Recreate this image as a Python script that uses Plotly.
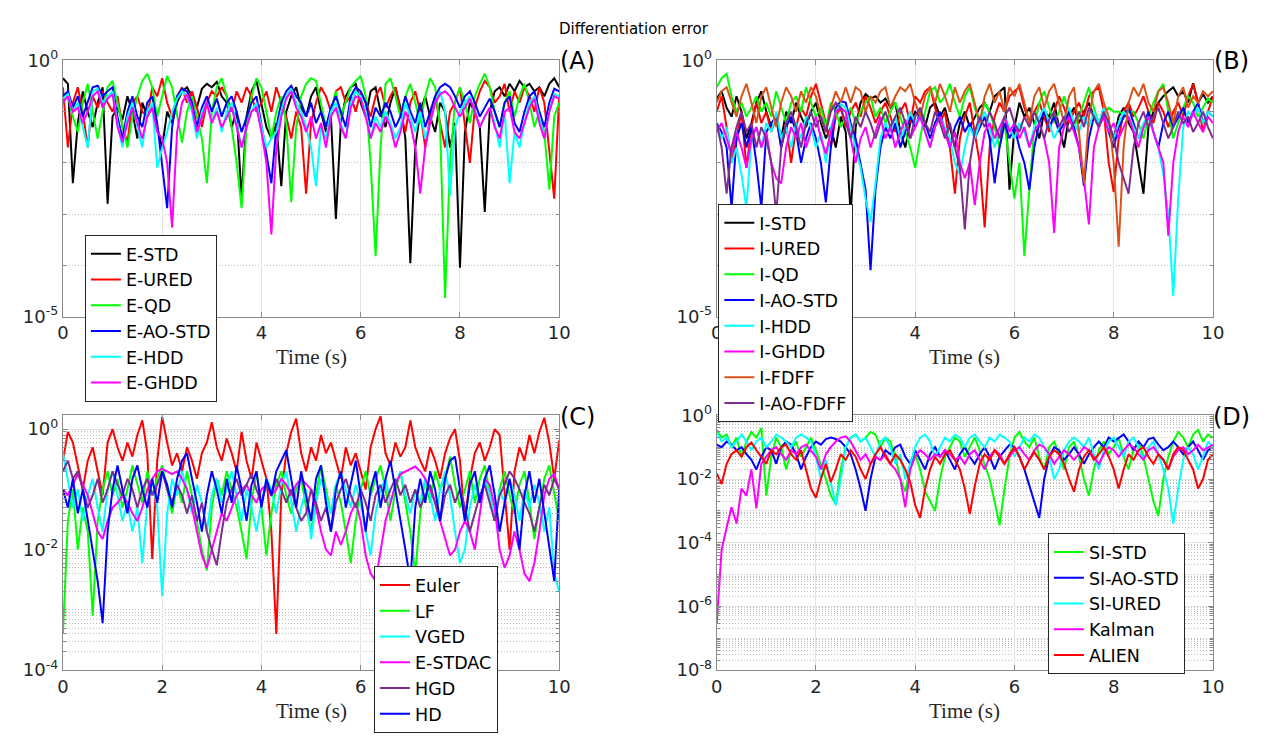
import plotly.graph_objects as go

# ---------------- data (t = 0 ... 10 s, step 0.1 s) ----------------
E_STD = [.45,.35,4e-3,.06,.25,.1,.05,.15,.3,1.6e-3,
         .08,.12,.07,.2,.1,.03,.15,.08,.12,.05,
         .02,.1,.06,.15,.25,.3,.2,.12,.28,.35,
         .3,.38,.2,.15,.05,.1,2e-3,.08,.25,.4,
         .15,.05,.03,.06,3.5e-3,.1,.2,.3,.12,.08,
         .2,.3,.1,.04,.08,8e-4,.06,.2,.3,.35,
         .15,.08,.25,.3,.1,.05,.15,.3,.12,.03,
         1.1e-4,.02,.1,.2,.08,.04,.15,.1,.02,.06,
         9e-5,.04,.15,.1,.05,1.1e-3,.1,.25,.3,.2,
         .35,.25,.4,.3,.35,.25,.3,.2,.35,.45,.3]
E_URED = [.3,.02,.15,.3,.1,.02,.2,.12,.25,.15,
          .1,.2,.05,.025,.15,.2,.1,.08,.3,.2,
          .45,.15,.08,.2,.3,.15,.25,.12,.05,.15,
          .25,.2,.3,.2,.1,.25,.15,.3,.2,.1,
          .15,.25,.1,.3,.15,.08,.03,.1,.05,2.5e-3,
          .06,.15,.3,.2,.1,.25,.3,.15,.2,.1,
          .25,.15,.08,.2,.3,.12,.2,.3,.1,.04,
          .15,.25,.1,.02,.08,.2,.06,.02,.1,.15,
          .3,.05,.01,.12,.25,.4,.3,.15,.2,.35,
          .1,.25,.15,.3,.2,.1,.3,.15,.02,2e-3,.2]
E_QD = [.15,.2,.08,.04,.15,.35,.1,.03,.1,.3,
        .4,.15,.05,.02,.08,.2,.4,.55,.3,.08,
        .2,.5,.3,.08,.025,.1,.2,.08,.03,4e-3,
        .1,.3,.45,.2,.05,.01,1.3e-3,.05,.2,.45,
        .3,.1,.03,.1,.2,.06,1.7e-3,.05,.2,.35,
        .45,.4,.15,.05,.1,.25,.08,.15,.3,.4,
        .5,.2,.01,1.5e-4,.02,.35,.45,.2,.08,.2,
        .35,.15,.06,.2,.45,.3,.05,2.3e-5,.01,.15,
        .3,.15,.06,.2,.35,.55,.3,.1,.05,.15,
        .25,.08,.2,.35,.15,.05,.1,.04,3e-3,.08,.15]
E_AO_STD = [.2,.25,.12,.2,.08,.15,.3,.32,.2,.25,
            .3,.08,.03,.1,.2,.08,.05,.15,.2,.06,
            .01,1.3e-3,.05,.2,.28,.25,.15,.05,.12,.2,
            .1,.18,.08,.15,.2,.1,.04,.08,.15,.2,
            .06,.015,4e-3,.05,.15,.25,.32,.2,.15,.08,
            .15,.06,.1,.05,.12,.2,.1,.05,.2,.3,
            .25,.15,.05,.12,.08,.15,.1,.05,.08,.2,
            .1,.06,.15,.05,.1,.2,.3,.35,.3,.2,
            .12,.2,.25,.15,.08,.12,.18,.1,.05,.15,
            .2,.06,.04,.1,.2,.25,.1,.05,.15,.28,.25]
E_HDD = [.18,.22,.1,.15,.05,.02,.25,.28,.15,.2,
         .25,.06,.02,.08,.15,.05,.02,.1,.15,8e-3,
         .02,.04,.1,.18,.25,.2,.1,.03,.1,.15,
         .06,.12,.04,.1,.15,.06,.02,.05,.1,.15,
         .05,.02,.03,.04,.1,.2,.28,.15,.1,.05,
         .02,3.5e-3,.05,.03,.1,.15,.06,.03,.15,.25,
         .2,.1,.03,.08,.05,.1,.06,.03,.05,.15,
         .08,.04,.1,.03,.06,.15,.25,.1,2.3e-3,.05,
         .1,.15,.2,.1,.05,.08,.12,.06,.02,.1,
         4e-3,.04,.02,.06,.15,.2,.08,.03,.1,.22,.2]
E_GHDD = [.15,.2,.1,.12,.06,.1,.2,.25,.12,.18,
          .22,.05,.025,.06,.12,.06,.03,.08,.12,.04,
          .03,.01,5.5e-4,.04,.15,.22,.12,.04,.08,.15,
          .06,.1,.05,.08,.12,.05,.02,.05,.1,.12,
          .04,.01,4e-4,.02,.08,.18,.25,.12,.08,.04,
          .08,.03,.06,.02,.08,.12,.05,.03,.12,.2,
          .18,.08,.03,.06,.04,.08,.05,.02,.04,.1,
          .06,.02,2.5e-3,.02,.06,.15,.22,.25,.2,.12,
          .08,.12,.18,.1,.05,.08,.12,.05,.03,.1,
          .12,.04,.03,.06,.12,.18,.06,.03,.1,.2,.18]

I_STD = [.18,.25,.12,.08,.2,.1,.03,.06,.15,.25,
         .1,.05,.08,.03,.1,.06,.15,.08,.05,.1,
         .15,.06,.03,.05,.02,.08,.04,1e-3,.05,.15,
         .22,.18,.2,.15,.18,.12,.15,.04,.02,.06,
         .1,.08,.05,.12,.15,.08,.12,.05,.02,.06,
         .1,.05,.08,.12,.15,.1,.2,.25,.3,3e-3,
         .05,.15,.08,.12,.06,.03,.1,.08,.15,.05,
         .02,.08,.12,.06,.1,.15,.08,.05,.1,.06,
         .03,.08,.12,.06,.04,.01,2.5e-3,.05,.1,.15,
         .2,.25,.3,.2,.25,.15,.36,.15,.22,.15,.2]
I_URED = [.1,.2,.05,.01,.03,.1,8e-3,.05,.15,.06,
          .1,.04,.08,.02,.06,.01,.05,.12,.08,.2,
          .35,.15,.06,.02,.08,.12,.05,.1,.15,.08,
          .2,.12,.06,.1,.15,.08,.04,.1,.15,.06,
          .2,.15,.25,.3,.12,.06,.1,.02,2.5e-3,.03,
          .08,.15,.04,.01,5.5e-4,.02,.08,.15,.1,.2,
          .25,.3,.12,.06,.1,.15,.08,.04,.1,.2,
          .12,.06,.1,.15,.08,.2,.25,.3,.1,.01,
          2.7e-3,.03,.1,.15,.08,.12,.2,.1,.06,.15,
          .1,.05,.1,.15,.08,.2,.35,.15,.04,.1,.2]
I_QD = [.3,.45,.55,.2,.1,.15,.08,.12,.2,.1,
        .15,.08,.25,.12,.06,.15,.2,.1,.3,.15,
        .08,.12,.05,.15,.1,.05,.08,.12,.06,.1,
        .15,.2,.08,.12,.06,.1,.15,.08,.04,.02,
        8e-3,.03,.1,.25,.3,.15,.2,.35,.15,.08,
        .2,.3,.12,.06,.15,.1,.05,.02,.06,.01,
        2e-3,.01,1.5e-4,3e-3,.05,.15,.25,.12,.06,.1,
        .2,.1,.05,.08,.15,.3,.12,.06,.1,.12,
        .1,.1,.09,.1,.1,.06,.03,.08,.15,.25,
        .35,.1,.03,.06,.12,.2,.15,.08,.12,.18,.15]
I_AO_STD = [.06,.04,.02,1.3e-3,.03,.06,.02,.05,.01,1.3e-3,
            .04,.06,.08,.02,.05,.08,.04,.01,.03,.06,
            .03,.01,1.7e-3,.02,.12,.16,.15,.06,.03,.01,
            3e-3,8e-5,3e-3,.02,.05,.03,.06,.02,.04,.08,
            .05,.1,.06,.03,.06,.1,.04,.02,.05,.08,
            .04,.06,.03,.05,.08,.03,4e-3,.02,.06,.03,
            .05,.02,.01,3e-3,.02,.06,.1,.05,.08,.04,
            .06,.1,.05,.02,3.5e-3,.03,.08,.06,.1,.04,
            .02,.05,.08,.12,.06,.03,.05,.1,.04,.02,
            .06,.1,.05,.08,.12,.06,.1,.15,.06,.1,.08]
I_HDD = [.05,.03,.05,.01,.02,6e-3,1.3e-3,.03,.05,.02,
         .06,.04,.1,.03,.05,.02,.06,.03,.08,.05,
         .02,.04,.01,.05,.1,.14,.12,.05,.02,8e-3,
         2e-3,7e-4,4e-3,.03,.06,.04,.08,.03,.05,.1,
         .06,.08,.04,.02,.05,.08,.05,.03,.01,6e-3,
         .02,.05,.03,.06,.1,.05,.02,.04,.08,.05,
         .03,.06,.04,.02,.05,.08,.12,.06,.03,.05,
         .08,.12,.06,.04,.08,.05,.1,.06,.12,.05,
         .03,.06,.1,.08,.05,.03,.06,.08,.04,.02,
         6e-3,1e-3,2.5e-5,2e-3,.05,.1,.08,.12,.06,.1,.08]
I_GHDD = [.04,.06,.03,.015,.04,.02,8e-3,.03,.05,.02,
          .04,.01,5e-3,4e-3,.02,.05,.03,.06,.02,.04,
          .08,.03,.015,.04,.1,.12,.1,.03,.01,.03,
          .05,.02,.04,.08,.03,.05,.02,.04,.07,.03,
          .05,.08,.04,.02,.05,.08,.04,.02,.04,.01,
          5e-3,.01,1.5e-3,.01,.04,.06,.03,.05,.08,.04,
          .06,.03,.05,.02,.04,.06,.03,.01,4.3e-4,.02,
          .05,.08,.04,.02,5e-3,6.3e-4,.02,.05,.08,.04,
          .06,.03,.05,.08,.04,.02,.05,.08,.04,.02,
          .01,3.8e-4,.01,.04,.08,.05,.1,.06,.04,.08,.06]
I_FDFF = [.15,.25,.3,.15,.08,.2,.35,.15,.06,.2,
          .3,.12,.05,.15,.3,.2,.1,.25,.15,.3,
          .2,.08,.04,.12,.25,.15,.3,.15,.3,.25,
          .1,.2,.15,.25,.3,.12,.2,.3,.25,.35,
          .15,.08,.2,.3,.15,.35,.2,.1,.3,.15,
          .25,.35,.15,.06,.2,.35,.15,.25,.1,.3,
          .2,.35,.15,.06,.2,.3,.12,.25,.35,.15,
          .06,.2,.3,.04,4e-3,.08,.25,.35,.15,.08,
          .01,2.3e-4,.02,.15,.3,.2,.35,.15,.1,.25,
          .3,.15,.06,.2,.3,.12,.2,.15,.25,.2,.25]
I_AO_FDFF = [.06,.02,2.5e-3,.02,.05,.1,.04,.06,.02,.05,
             .03,.01,1e-3,.02,.06,.1,.05,.02,.06,.1,
             .05,.08,.04,.1,.15,.12,.06,.03,.08,.05,
             .1,.06,.03,.06,.1,.05,.08,.12,.06,.03,
             .08,.12,.06,.04,.1,.06,.03,.06,.02,8e-3,
             5e-4,.01,.04,.08,.05,.1,.06,.03,.08,.12,
             .06,.04,.08,.05,.1,.06,.03,.07,.1,.05,
             .08,.04,.06,.1,.05,.12,.08,.05,.1,.06,
             .03,.01,5e-3,2.5e-3,.02,.06,.1,.05,.08,.12,
             .06,.03,.05,.1,.06,.08,.04,.06,.1,.05,.03]

EULER = [.3,.9,.6,.25,.1,.3,.5,.2,.08,.6,
         1.0,.5,.3,.6,.35,.8,1.4,.4,7e-3,.3,
         1.6,.6,.25,.4,.2,.5,.3,.15,.4,.6,
         1.3,.5,.3,.7,.4,.2,.9,.3,.15,.6,
         .3,.15,.02,4e-4,.08,.4,.9,1.5,.4,.2,
         .5,.3,.8,.4,.6,.3,.15,.5,.25,.4,
         .2,.1,.5,1.0,1.65,.4,.25,.6,.35,.5,
         1.4,.5,.3,.2,.5,.3,.15,.4,.7,1.0,
         .3,.03,.15,.4,.6,.3,.5,1.0,.8,.1,
         .01,.2,.5,.3,.8,.4,.9,1.55,.6,.15,.65]
LF = [4e-4,.03,.1,.01,.05,.02,8e-4,.03,.1,.2,
      .08,.15,.05,.1,.25,.12,.06,.2,.08,.15,
      .25,.1,.04,.12,.06,.2,.08,.03,.01,4.5e-3,
      .05,.15,.08,.2,.1,.05,.02,7e-3,.06,.2,
      .05,8e-3,.04,.12,.2,.08,.04,.1,.15,.05,
      .02,.08,.25,.1,.04,.12,.06,.02,6e-3,.03,
      .1,.2,.08,.15,.25,.1,.03,.1,.2,.06,
      .02,4e-3,.04,.15,.06,.2,.1,.15,.35,.12,
      .05,.1,.2,.06,.15,.25,.08,.03,.1,.2,
      .08,.04,.12,.2,.06,.015,.05,.15,.25,.08,.03]
VGED = [.4,.15,.05,.1,.03,.08,.15,.05,.02,.1,
        .2,.08,.03,.06,.02,.05,6e-3,.06,.15,.05,
        1.7e-3,.04,.15,.08,.2,.1,.04,.12,.06,.02,
        .08,.15,.06,.1,.2,.08,.03,.1,.05,.02,
        .06,.15,.1,.04,.12,.2,.06,.02,.05,.1,
        .015,.06,.15,.08,.04,.12,.2,.1,.05,.12,
        .06,.02,8e-3,.04,.1,.15,.06,.12,.2,.08,
        .04,.1,.06,.15,.08,.03,.1,.2,.08,.02,
        6e-3,.01,.05,.12,.06,.15,.08,.03,.1,.06,
        .15,.08,.03,.1,.05,.12,.06,.02,.05,4e-3,2e-3]
E_STDAC = [.1,.08,.12,.18,.12,.08,.04,.02,.015,.03,
           .05,.06,.08,.06,.04,.03,.05,.1,.15,.2,
           .22,.2,.18,.2,.15,.1,.05,.02,8e-3,5e-3,
           .01,.02,.04,.03,.05,.08,.1,.12,.08,.06,
           .1,.12,.08,.1,.15,.12,.08,.12,.15,.12,
           .1,.05,.02,.01,8e-3,.02,.012,.02,.04,.06,
           .03,8e-3,4e-3,3e-3,.01,.03,.06,.12,.18,.2,
           .22,.24,.2,.15,.1,.06,.03,.015,8e-3,.01,
           .02,.03,.02,.01,.04,.15,.12,.05,.01,5e-3,
           8e-3,.02,.01,4e-3,3e-3,6e-3,.02,.08,.15,.18,.1]
HGD = [.2,.3,.15,.2,.1,.05,.08,.15,.06,.1,
       .2,.12,.08,.15,.1,.05,.1,.15,.08,.12,
       .2,.1,.06,.12,.08,.04,.08,.03,.06,.02,
       .01,5.5e-3,.02,.06,.1,.15,.08,.12,.18,.1,
       .06,.12,.08,.15,.1,.06,.1,.05,.03,.04,
       .1,.06,.03,.05,.02,.06,.1,.15,.08,.05,
       .1,.06,.03,.08,.12,.06,.1,.15,.08,.12,
       .06,.1,.05,.08,.12,.06,.03,.08,.12,.06,
       .1,.05,.02,.04,.08,.12,.06,.03,.08,.12,
       .2,.15,.1,.06,.04,.02,.05,.12,.08,.15,.1]
HD = [.1,.05,.15,.04,.1,.03,.01,3e-3,6e-4,.02,
      .1,.25,.1,.04,.15,.25,.1,.05,.15,.06,
      .2,.12,.05,.15,.3,.4,.15,.06,.02,.08,
      .2,.1,.04,.15,.06,.25,.1,.03,.12,.2,
      .05,.15,.08,.2,.3,.45,.15,.05,.2,.08,
      .03,.15,.25,.06,.02,.1,.2,.05,.12,.3,
      .08,.02,.1,.2,.05,.15,.3,.1,.03,.01,
      3e-3,.05,.15,.06,.2,.1,.03,.15,.3,.35,
      .1,.03,.12,.2,.06,.15,.25,.08,.02,.06,
      .15,.05,.01,.08,.2,.06,.15,.04,.01,3e-3,.1]

SI_STD = [.35,.2,.25,.1,.2,.05,.15,.3,.2,.4,
          3e-3,.05,.2,.1,.02,.08,.15,.05,.1,.2,
          .08,.03,.01,3e-3,1.6e-3,.02,.1,.2,.25,.15,
          .2,.3,.25,.1,.2,.15,.05,.01,4e-3,.02,
          .06,.02,4e-3,2e-3,1e-3,.01,.05,.1,.2,.15,
          .05,.1,.2,.08,.03,.01,2e-3,3.5e-4,5e-3,.05,
          .2,.3,.15,.1,.2,.05,.02,.1,.15,.06,
          .02,.1,.15,.05,.01,3e-3,.02,.08,.15,.06,
          .1,.2,.05,.02,.08,.15,.05,.01,2e-3,7e-4,
          .01,.05,.15,.3,.2,.1,.25,.35,.15,.25,.2]
SI_AO_STD = [.12,.1,.15,.12,.08,.1,.06,.04,.02,.05,
             .1,.08,.03,.1,.15,.12,.06,.02,.05,.1,
             .15,.12,.18,.2,.18,.15,.1,.06,.02,5e-3,
             1e-3,.01,.05,.04,.08,.06,.1,.12,.05,.03,
             .08,.04,.02,.06,.1,.05,.08,.04,.02,.06,
             .1,.05,.03,.06,.1,.05,.02,.05,.08,.12,
             .1,.05,.02,6e-3,2e-3,6e-4,.01,.05,.1,.08,
             .04,.06,.1,.06,.03,.06,.1,.15,.1,.2,
             .15,.2,.25,.15,.08,.15,.1,.18,.2,.12,
             .08,.1,.15,.1,.06,.1,.15,.08,.04,.08,.1]
SI_URED = [.3,.15,.2,.1,.15,.25,.15,.08,.15,.2,
           .1,.15,.25,.2,.15,.1,.2,.25,.2,.15,
           .05,.01,.04,8e-3,1.5e-3,.01,.1,.2,.25,.15,
           .2,.1,.05,.15,.2,.1,.03,.06,.01,.03,
           .1,.2,.25,.15,.05,.1,.2,.15,.25,.2,
           .1,.2,.25,.15,.1,.2,.15,.25,.2,.15,
           .05,.1,.2,.15,.25,.2,.1,.05,.01,.02,
           .08,.15,.2,.15,.1,.2,.06,.02,.08,.15,
           .2,.1,.05,.15,.2,.1,.04,.1,.15,.06,
           .02,5e-3,4e-4,5e-3,.04,.1,.06,.02,.05,.15,.1]
KALMAN = [3e-7,6e-5,3e-4,1.3e-3,4e-4,5e-3,3e-3,.02,1.2e-3,.03,
          .05,.08,.1,.06,.04,.08,.06,.1,.12,.08,
          .05,.02,.06,.1,.15,.2,.22,.15,.08,.04,
          .06,.03,.05,.04,.06,.03,.02,.01,1.3e-3,.02,
          .05,.08,.06,.04,.06,.05,.08,.06,.04,.05,
          .03,.06,.08,.04,.02,.05,.08,.06,.03,.05,
          .08,.1,.06,.04,.08,.12,.1,.06,.03,.05,
          .08,.06,.04,.06,.1,.08,.05,.03,.06,.1,
          .08,.05,.08,.12,.1,.06,.04,.08,.1,.06,
          .04,.02,.05,.08,.1,.06,.08,.12,.08,.1,.12]
ALIEN = [.015,7e-3,.03,.06,.08,.05,.1,.14,.08,.05,
         .03,.08,.06,.1,.12,.06,.04,.08,.02,5e-3,
         2.6e-3,.01,.03,8e-3,.02,.06,.04,.08,.05,.02,
         .01,.03,.06,.1,.05,.03,.06,.04,.02,8e-3,
         1.5e-3,6e-4,5e-3,.02,.05,.03,.06,.08,.04,.02,
         5e-3,8e-4,6e-3,.03,.06,.04,.08,.05,.03,.06,
         .1,.05,.02,.04,.07,.04,.02,.05,.08,.06,
         .03,.01,4e-3,.02,.05,.08,.04,.06,.1,.05,
         .02,5e-3,.02,.06,.04,.08,.1,.05,.03,.06,
         .04,.02,.06,.1,.08,.04,.02,5e-3,.01,.04,.06]

PANEL_A = [("E-STD", E_STD, "#000000"), ("E-URED", E_URED, "#ff0000"),
           ("E-QD", E_QD, "#00ff00"), ("E-AO-STD", E_AO_STD, "#0000ff"),
           ("E-HDD", E_HDD, "#00ffff"), ("E-GHDD", E_GHDD, "#ff00ff")]
PANEL_B = [("I-STD", I_STD, "#000000"), ("I-URED", I_URED, "#ff0000"),
           ("I-QD", I_QD, "#00ff00"), ("I-AO-STD", I_AO_STD, "#0000ff"),
           ("I-HDD", I_HDD, "#00ffff"), ("I-GHDD", I_GHDD, "#ff00ff"),
           ("I-FDFF", I_FDFF, "#d95319"), ("I-AO-FDFF", I_AO_FDFF, "#7e2f8e")]
PANEL_C = [("Euler", EULER, "#ff0000"), ("LF", LF, "#00ff00"),
           ("VGED", VGED, "#00ffff"), ("E-STDAC", E_STDAC, "#ff00ff"),
           ("HGD", HGD, "#7e2f8e"), ("HD", HD, "#0000ff")]
PANEL_D = [("SI-STD", SI_STD, "#00ff00"), ("SI-AO-STD", SI_AO_STD, "#0000ff"),
           ("SI-URED", SI_URED, "#00ffff"), ("Kalman", KALMAN, "#ff00ff"),
           ("ALIEN", ALIEN, "#ff0000")]

X_TICKS = [0, 2, 4, 6, 8, 10]

# ---------------- layout geometry ----------------
W, H = 1273, 736
XL = (57.7 / W, 560.7 / W)
XR = (720.3 / W, 1223.3 / W)
YT = (1 - 313.3 / H, 1 - 49 / H)
YB = (1 - 678.3 / H, 1 - 415.3 / H)

SANS = "DejaVu Sans"
SERIF = "Liberation Serif"
TXT = "#262626"
FRAME = "#8a8a8a"
GRID = "#e3e3e3"

fig = go.Figure()


def tgrid(v):
    n = len(v)
    return [10.0 * i / (n - 1) for i in range(n)]


panels = [(PANEL_A, "x", "y", "legend"), (PANEL_B, "x2", "y2", "legend2"),
          (PANEL_C, "x3", "y3", "legend3"), (PANEL_D, "x4", "y4", "legend4")]
for series, xa, ya, lg in panels:
    for name, vals, col in series:
        fig.add_trace(go.Scatter(x=tgrid(vals), y=vals, mode="lines", name=name,
                                 line=dict(color=col, width=2), xaxis=xa, yaxis=ya,
                                 legend=lg))


def sup(e):
    return "10<sup>%d</sup>" % e


def xaxis(dom, anchor):
    return dict(domain=list(dom), anchor=anchor, range=[0, 10], tickvals=X_TICKS,
                ticks="inside", ticklen=5, tickcolor=FRAME, showline=True,
                linecolor=FRAME, linewidth=1, mirror="ticks", showgrid=True,
                gridcolor=GRID, gridwidth=1, zeroline=False,
                tickfont=dict(family=SANS, size=18, color=TXT))


def minor_vals(lo, hi):
    out = []
    for d in range(lo, hi + 1):
        for k in range(1, 10):
            out.append(k * 10.0 ** d)
    return out


def yaxis(dom, anchor, rng, major, minor):
    return dict(domain=list(dom), anchor=anchor, type="log", range=rng,
                tickvals=[10.0 ** e for e in major], ticktext=[sup(e) for e in major],
                ticks="inside", ticklen=5, tickcolor=FRAME, showline=True,
                linecolor=FRAME, linewidth=1, mirror="ticks", showgrid=True,
                gridcolor=GRID, gridwidth=1, zeroline=False,
                tickfont=dict(family=SANS, size=18, color=TXT),
                minor=dict(tickvals=minor, ticks="inside", ticklen=3,
                           tickcolor=FRAME, showgrid=True, gridcolor="#bdbdbd",
                           griddash="1px,2px", gridwidth=1))


minorAB = [1e-4, 1e-3, 1e-2, 1e-1]
minorC = [v for v in minor_vals(-4, 0) if v not in (1e-4, 1e-2, 1.0) and v < 1.7]
minorD = [v for v in minor_vals(-8, -1) if v not in (1e-8, 1e-6, 1e-4, 1e-2)]

legend_common = dict(bgcolor="white", bordercolor=TXT, borderwidth=1,
                     font=dict(family=SANS, size=17.5, color="#000000"),
                     xanchor="left", yanchor="top", tracegroupgap=0)

fig.update_layout(
    width=W, height=H, margin=dict(l=0, r=0, t=0, b=0),
    paper_bgcolor="white", plot_bgcolor="white",
    xaxis=xaxis(XL, "y"), yaxis=yaxis(YT, "x", [-5, 0], [-5, 0], minorAB),
    xaxis2=xaxis(XR, "y2"), yaxis2=yaxis(YT, "x2", [-5, 0], [-5, 0], minorAB),
    xaxis3=xaxis(XL, "y3"), yaxis3=yaxis(YB, "x3", [-4, 0.23], [-4, -2, 0], minorC),
    xaxis4=xaxis(XR, "y4"), yaxis4=yaxis(YB, "x4", [-8, 0], [-8, -6, -4, -2, 0], minorD),
    legend=dict(x=80 / W, y=1 - 229 / H, **legend_common),
    legend2=dict(x=722 / W, y=1 - 197 / H, **legend_common),
    legend3=dict(x=373 / W, y=1 - 571 / H, **legend_common),
    legend4=dict(x=1056 / W, y=1 - 537 / H, **legend_common),
)

ann = [
    dict(text="Differentiation error", x=0.5, y=1 - 17 / H, font=dict(family=SANS, size=15, color="#000000")),
    dict(text="Time (s)", x=(XL[0] + XL[1]) / 2, y=1 - 355 / H, font=dict(family=SERIF, size=21, color=TXT)),
    dict(text="Time (s)", x=(XR[0] + XR[1]) / 2, y=1 - 355 / H, font=dict(family=SERIF, size=21, color=TXT)),
    dict(text="Time (s)", x=(XL[0] + XL[1]) / 2, y=1 - 720 / H, font=dict(family=SERIF, size=21, color=TXT)),
    dict(text="Time (s)", x=(XR[0] + XR[1]) / 2, y=1 - 720 / H, font=dict(family=SERIF, size=21, color=TXT)),
    dict(text="(A)", x=579.3 / W, y=1 - 49.3 / H, font=dict(family=SANS, size=24, color="#000000")),
    dict(text="(B)", x=1241.7 / W, y=1 - 49.3 / H, font=dict(family=SANS, size=24, color="#000000")),
    dict(text="(C)", x=579.3 / W, y=1 - 416.7 / H, font=dict(family=SANS, size=24, color="#000000")),
    dict(text="(D)", x=1241.7 / W, y=1 - 416.7 / H, font=dict(family=SANS, size=24, color="#000000")),
]
for a in ann:
    a.update(xref="paper", yref="paper", showarrow=False, xanchor="center", yanchor="middle")
fig.update_layout(annotations=ann)

fig.write_html("out.html")
